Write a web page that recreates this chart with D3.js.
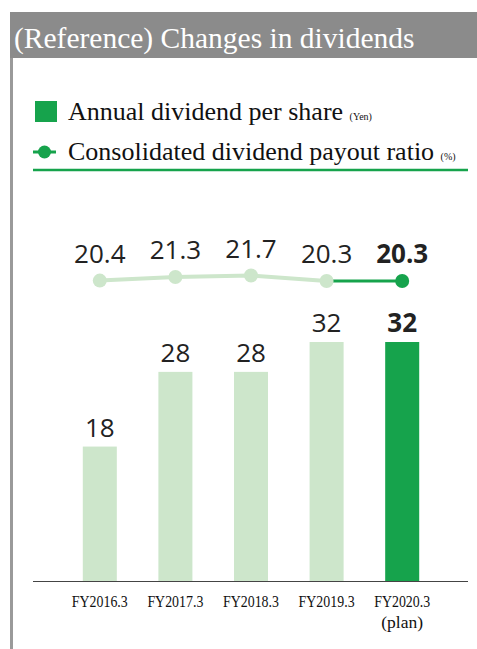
<!DOCTYPE html>
<html>
<head>
<meta charset="utf-8">
<script src="https://cdn.jsdelivr.net/npm/d3@7"></script>
<style>
  body { margin: 0; background: #fff; }
  svg { display: block; }
</style>
</head>
<body>
<div class="js-container"></div>
<script>
  'use strict';

  // Chart data.
  var categories = ['FY2016.3', 'FY2017.3', 'FY2018.3', 'FY2019.3', 'FY2020.3'];
  var subLabels = ['', '', '', '', '(plan)'];
  var dividends = [18, 28, 28, 32, 32];
  var payoutRatios = [20.4, 21.3, 21.7, 20.3, 20.3];
  var isPlan = [false, false, false, false, true];

  var W = 477, H = 649;
  var lightGreen = '#cde6cb';
  var darkGreen = '#16a34c';
  var serif = '"Liberation Serif", "DejaVu Serif", serif';
  var sans = '"Open Sans", "Noto Sans", sans-serif';

  var svg = d3.select('.js-container').append('svg')
      .attr('width', W)
      .attr('height', H);

  // Title bar and left frame line.
  svg.append('rect')
      .attr('x', 10).attr('y', 12)
      .attr('width', W - 10).attr('height', 46)
      .attr('fill', '#8b8b8b');
  svg.append('text')
      .attr('x', 14).attr('y', 48)
      .attr('fill', '#fff')
      .style('font-family', serif)
      .style('font-size', '29.5px')
      .text('(Reference) Changes in dividends');
  svg.append('rect')
      .attr('x', 10).attr('y', 58)
      .attr('width', 3).attr('height', H - 58)
      .attr('fill', '#9a9a9a');

  // Legend.
  svg.append('rect')
      .attr('x', 35).attr('y', 101)
      .attr('width', 22).attr('height', 21)
      .attr('fill', darkGreen);
  var l1 = svg.append('text')
      .attr('x', 68).attr('y', 120)
      .style('font-family', serif)
      .style('font-size', '26px')
      .attr('fill', '#111');
  l1.append('tspan').text('Annual dividend per share ');
  l1.append('tspan').style('font-size', '10px').text('(Yen)');

  svg.append('line')
      .attr('x1', 33).attr('x2', 56)
      .attr('y1', 152).attr('y2', 152)
      .attr('stroke', darkGreen).attr('stroke-width', 3);
  svg.append('circle')
      .attr('cx', 44.5).attr('cy', 152).attr('r', 6.5)
      .attr('fill', darkGreen);
  var l2 = svg.append('text')
      .attr('x', 68).attr('y', 160)
      .style('font-family', serif)
      .style('font-size', '26px')
      .attr('fill', '#111');
  l2.append('tspan').text('Consolidated dividend payout ratio ');
  l2.append('tspan').style('font-size', '10px').text('(%)');

  svg.append('line')
      .attr('x1', 33).attr('x2', 468)
      .attr('y1', 170).attr('y2', 170)
      .attr('stroke', darkGreen).attr('stroke-width', 2.5);

  // Scales.
  var x = d3.scaleBand()
      .domain(categories)
      .range([62, 440])
      .paddingInner(0.55)
      .paddingOuter(0.275);

  var y = d3.scaleLinear()
      .domain([0, 32])
      .range([581, 342]);

  var yRatio = d3.scaleLinear()
      .domain([20.3, 21.7])
      .range([281, 275.5]);

  // Bars.
  svg.selectAll('.bar')
      .data(dividends)
      .enter().append('rect')
      .attr('class', 'bar')
      .attr('x', function(d, i) { return x(categories[i]); })
      .attr('y', function(d) { return y(d); })
      .attr('width', x.bandwidth())
      .attr('height', function(d) { return y(0) - y(d); })
      .attr('fill', function(d, i) { return isPlan[i] ? darkGreen : lightGreen; });

  svg.selectAll('.bar-label')
      .data(dividends)
      .enter().append('text')
      .attr('class', 'bar-label')
      .attr('x', function(d, i) { return x(categories[i]) + x.bandwidth() / 2; })
      .attr('y', function(d) { return y(d) - 10; })
      .attr('text-anchor', 'middle')
      .attr('fill', '#222')
      .style('font-family', sans)
      .style('font-size', '26px')
      .style('font-weight', function(d, i) { return isPlan[i] ? 700 : 400; })
      .text(function(d) { return d; });

  // Axis baseline.
  svg.append('line')
      .attr('x1', 33).attr('x2', 468)
      .attr('y1', 581.5).attr('y2', 581.5)
      .attr('stroke', '#444').attr('stroke-width', 1.2);

  // Category labels (the original face is a condensed serif).
  var cx = function(i) { return x(categories[i]) + x.bandwidth() / 2; };
  svg.selectAll('.cat')
      .data(categories)
      .enter().append('text')
      .attr('class', 'cat')
      .attr('x', function(d, i) { return cx(i); })
      .attr('y', 607)
      .attr('text-anchor', 'middle')
      .attr('textLength', 56)
      .attr('lengthAdjust', 'spacingAndGlyphs')
      .attr('fill', '#111')
      .style('font-family', serif)
      .style('font-size', '17.5px')
      .text(function(d) { return d; });
  svg.selectAll('.sub')
      .data(subLabels)
      .enter().append('text')
      .attr('class', 'sub')
      .attr('x', function(d, i) { return cx(i); })
      .attr('y', 628)
      .attr('text-anchor', 'middle')
      .attr('fill', '#111')
      .style('font-family', serif)
      .style('font-size', '17.5px')
      .text(function(d) { return d; });

  // Payout ratio line: actual segment light, plan segment dark.
  var line = d3.line()
      .x(function(d) { return cx(d.i); })
      .y(function(d) { return yRatio(d.v); });
  var pts = payoutRatios.map(function(v, i) { return { v: v, i: i }; });
  var planStart = isPlan.indexOf(true);

  svg.append('path')
      .datum(pts.slice(0, planStart))
      .attr('d', line)
      .attr('fill', 'none')
      .attr('stroke', lightGreen)
      .attr('stroke-width', 4);
  svg.append('path')
      .datum(pts.slice(planStart - 1))
      .attr('d', line)
      .attr('fill', 'none')
      .attr('stroke', darkGreen)
      .attr('stroke-width', 3);

  svg.selectAll('.dot')
      .data(pts)
      .enter().append('circle')
      .attr('class', 'dot')
      .attr('cx', function(d) { return cx(d.i); })
      .attr('cy', function(d) { return yRatio(d.v); })
      .attr('r', 7)
      .attr('fill', function(d) { return isPlan[d.i] ? darkGreen : lightGreen; });

  svg.selectAll('.dot-label')
      .data(pts)
      .enter().append('text')
      .attr('class', 'dot-label')
      .attr('x', function(d) { return cx(d.i); })
      .attr('y', function(d) { return yRatio(d.v) - 18; })
      .attr('text-anchor', 'middle')
      .attr('fill', '#222')
      .style('font-family', sans)
      .style('font-size', '26px')
      .style('font-weight', function(d) { return isPlan[d.i] ? 700 : 400; })
      .text(function(d) { return d3.format('.1f')(d.v); });
</script>
</body>
</html>
